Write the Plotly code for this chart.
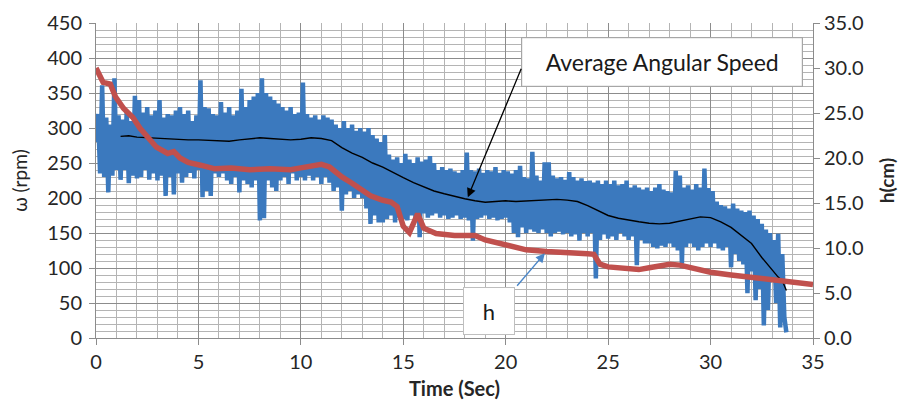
import numpy as np
import plotly.graph_objects as go

# --- angular speed samples (rpm), every 0.1 s from t = 0 ---
omega_rows = [
    [280, 320, 235, 361, 230, 315, 208, 305, 232, 371],
    [240, 318, 226, 312, 240, 325, 221, 310, 232, 346],
    [228, 340, 230, 322, 240, 330, 226, 318, 235, 325],
    [225, 340, 232, 315, 203, 320, 230, 318, 205, 325],
    [235, 330, 222, 320, 230, 325, 236, 310, 228, 318],
    [240, 368, 201, 330, 210, 328, 203, 320, 235, 318],
    [230, 337, 235, 322, 225, 330, 220, 318, 230, 325],
    [208, 356, 225, 330, 220, 340, 215, 345, 225, 350],
    [168, 371, 171, 350, 225, 345, 215, 340, 210, 335],
    [225, 330, 230, 325, 220, 330, 235, 320, 225, 322],
    [230, 365, 225, 320, 232, 315, 225, 318, 230, 312],
    [220, 318, 230, 315, 222, 312, 210, 305, 215, 300],
    [182, 310, 205, 300, 210, 305, 200, 296, 205, 300],
    [200, 295, 185, 300, 163, 290, 175, 285, 165, 280],
    [165, 290, 170, 262, 175, 255, 165, 258, 172, 250],
    [170, 263, 168, 255, 175, 250, 170, 258, 144, 252],
    [178, 255, 172, 260, 175, 250, 178, 240, 172, 244],
    [175, 240, 170, 242, 172, 238, 175, 236, 170, 240],
    [172, 265, 168, 240, 139, 238, 170, 242, 172, 236],
    [175, 240, 170, 238, 172, 244, 168, 236, 170, 240],
    [172, 238, 165, 235, 150, 240, 144, 246, 158, 230],
    [150, 228, 155, 266, 152, 232, 150, 225, 155, 251],
    [150, 251, 145, 232, 150, 228, 152, 230, 148, 226],
    [150, 237, 145, 230, 148, 225, 139, 228, 150, 224],
    [145, 225, 150, 222, 85, 225, 140, 220, 148, 225],
    [142, 220, 145, 225, 140, 218, 150, 220, 145, 225],
    [140, 215, 145, 218, 104, 215, 140, 212, 135, 215],
    [135, 210, 130, 215, 128, 220, 132, 212, 130, 210],
    [135, 208, 130, 239, 125, 232, 106, 215, 130, 218],
    [135, 212, 130, 220, 125, 215, 130, 242, 135, 214],
    [130, 210, 135, 195, 128, 190, 125, 188, 130, 185],
    [101, 192, 120, 185, 110, 182, 105, 180, 64, 182],
    [95, 175, 54, 170, 70, 163, 18, 155, 40, 150],
    [80, 140, 50, 149, 15, 120, 30, 8],
]
omega = [v for row in omega_rows for v in row]
sample_dt = 0.1
omega_t = np.round(np.arange(len(omega)) * sample_dt, 1)

# --- average angular speed (rpm) ---
avg_t = [1.2, 1.6, 2, 2.5, 3, 3.5, 4, 4.5, 5, 5.5, 6, 6.5, 7, 7.5, 8, 8.5, 9, 9.5,
         10, 10.5, 11, 11.5, 12, 12.5, 13, 13.5, 14, 14.5, 15, 15.5, 16, 16.5, 17,
         17.5, 18, 18.5, 19, 19.5, 20, 20.5, 21, 21.5, 22, 22.5, 23, 23.5, 24, 24.5,
         25, 25.5, 26, 26.5, 27, 27.5, 28, 28.5, 29, 29.5, 30, 30.5, 31, 31.5, 32,
         32.5, 33, 33.3, 33.5, 33.7]
avg_w = [288, 289, 287, 286, 285, 284, 284, 283, 283, 282, 282, 281, 283, 284, 286,
         285, 284, 283, 284, 286, 285, 282, 272, 264, 258, 250, 244, 236, 229, 222,
         216, 210, 206, 202, 199, 196, 194, 195, 196, 195, 196, 197, 198, 198, 197,
         195, 189, 182, 175, 171, 168, 166, 164, 163, 164, 167, 171, 173, 172, 166,
         158, 147, 135, 115, 97, 87, 82, 68]

# --- height h (cm) ---
h_t = [0, 0.35, 0.7, 0.95, 1.35, 1.8, 2.15, 2.55, 2.95, 3.5, 3.8, 4.1, 4.5, 5.1, 5.8,
       6.6, 7.5, 8.5, 9.5, 10, 10.5, 11, 11.4, 12, 12.5, 13, 13.4, 14, 14.4, 14.7,
       15.0, 15.3, 15.5, 15.7, 16.0, 16.6, 17.5, 18.5, 19, 20, 20.7, 21, 22, 23, 24,
       24.3, 24.6, 25, 26, 26.5, 27, 28, 28.5, 29, 30, 31, 32, 33, 34, 35]
h_v = [30.0, 28.4, 28.2, 26.8, 25.5, 24.5, 23.3, 22.2, 21.2, 20.5, 20.7, 20.0, 19.5,
       19.2, 18.8, 18.9, 18.7, 18.8, 18.7, 18.9, 19.1, 19.3, 19.0, 17.9, 17.2, 16.5,
       15.8, 15.3, 15.1, 14.6, 12.4, 11.7, 12.6, 13.8, 12.2, 11.6, 11.4, 11.4, 10.9,
       10.3, 10.0, 9.8, 9.6, 9.4, 9.35, 9.3, 8.2, 7.9, 7.8, 7.6, 7.8, 8.2, 8.1, 7.8,
       7.3, 7.0, 6.7, 6.4, 6.1, 5.95]

x_ticks = [0, 5, 10, 15, 20, 25, 30, 35]

FONT = "Lato"
TXT = "#262626"
GRID_MAJ = "#8c8c8c"
GRID_MIN = "#b4b4b4"

fig = go.Figure()
fig.add_trace(go.Scatter(x=omega_t, y=omega, mode="lines",
                         line=dict(color="#3b79be", width=4.5), yaxis="y",
                         showlegend=False, hoverinfo="skip"))
fig.add_trace(go.Scatter(x=avg_t, y=avg_w, mode="lines",
                         line=dict(color="#000000", width=1.4), yaxis="y",
                         showlegend=False))
fig.add_trace(go.Scatter(x=h_t, y=h_v, mode="lines",
                         line=dict(color="#c0504d", width=5.5), yaxis="y2",
                         showlegend=False))

fig.update_layout(
    width=898, height=401,
    margin=dict(l=88, r=93, t=15, b=71),
    paper_bgcolor="white", plot_bgcolor="white",
    font=dict(family=FONT, size=20, color=TXT),
    xaxis=dict(range=[0, 35], tickvals=x_ticks, showgrid=True, gridcolor=GRID_MAJ,
               gridwidth=1, minor=dict(dtick=1, showgrid=True, gridcolor=GRID_MIN,
                                       gridwidth=1),
               showline=True, linecolor=GRID_MAJ, ticks="outside", ticklen=6,
               tickcolor=GRID_MAJ, zeroline=False, automargin=False,
               title=dict(text="<b>Time (Sec)</b>", font=dict(size=20), standoff=9)),
    yaxis=dict(range=[0, 450], dtick=50, showgrid=True, gridcolor=GRID_MAJ,
               minor=dict(dtick=10, showgrid=True, gridcolor=GRID_MIN, gridwidth=1),
               showline=True, linecolor=GRID_MAJ, ticks="outside", ticklen=6,
               tickcolor=GRID_MAJ, zeroline=False, automargin=False,
               ticklabelstandoff=3,
               title=dict(text="ω (rpm)", font=dict(size=19), standoff=14)),
    yaxis2=dict(range=[0, 35], dtick=5, tickformat=".1f", overlaying="y",
                side="right", showgrid=False, showline=True, linecolor=GRID_MAJ,
                ticks="outside", ticklen=6, tickcolor=GRID_MAJ, zeroline=False,
                automargin=False,
                title=dict(text="<b>h(cm)</b>", font=dict(size=19), standoff=18)),
)

# Average Angular Speed label + arrow
fig.add_annotation(x=27.62, y=395, xref="x", yref="y", text="Average Angular Speed",
                   showarrow=False, font=dict(size=23, color="#1a1a1a"),
                   bgcolor="white", bordercolor="#a6a6a6", borderwidth=1.2,
                   width=272, height=40, borderpad=4)
fig.add_annotation(x=18.15, y=201, xref="x", yref="y", text="", showarrow=True,
                   ax=54, ay=-130, axref="pixel", ayref="pixel",
                   arrowhead=2, arrowsize=1.4, arrowwidth=1.3, arrowcolor="#000000")

# h label + arrow
fig.add_annotation(x=19.18, y=38, xref="x", yref="y", text="h", showarrow=False,
                   font=dict(size=22, color="#1a1a1a"), bgcolor="white",
                   bordercolor="#bfbfbf", borderwidth=1, width=44, height=40,
                   borderpad=3)
fig.add_annotation(x=21.91, y=121, xref="x", yref="y", text="", showarrow=True,
                   ax=-29, ay=34, axref="pixel", ayref="pixel",
                   arrowhead=2, arrowsize=1.3, arrowwidth=1.4, arrowcolor="#4a86c8")

fig.write_html("out.html")
